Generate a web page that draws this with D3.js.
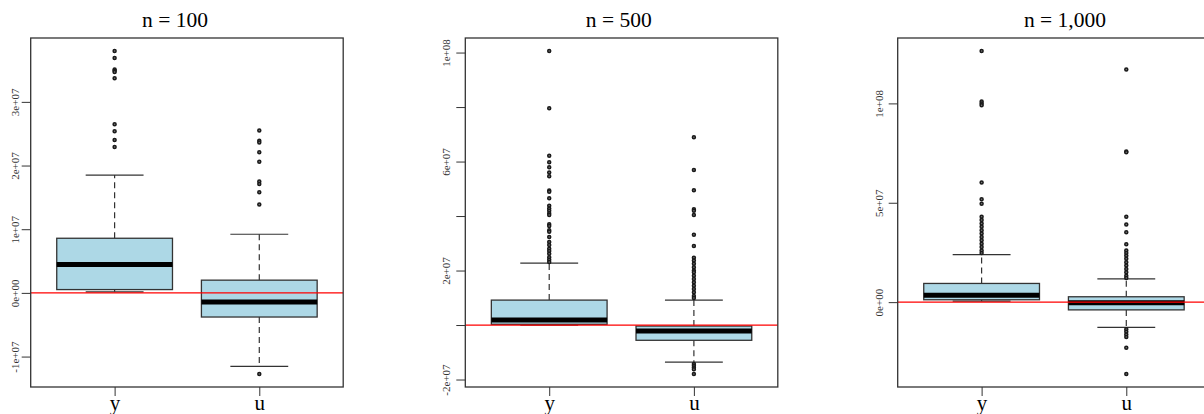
<!DOCTYPE html>
<html>
<head>
<meta charset="utf-8">
<script src="https://cdn.jsdelivr.net/npm/d3@7"></script>
<style>
  body { margin: 0; background: #fff; }
  svg { display: block; font-family: "Liberation Serif", "Times New Roman", serif; }
</style>
</head>
<body>
<svg id="chart" width="1204" height="414"></svg>
<script>
// groups shown on every panel
const groups = ['y', 'u'];
const panelTitles = ['n = 100', 'n = 500', 'n = 1,000'];

// box stats [lower whisker, q1, median, q3, upper whisker], values in units of 1e6
const stats100Y = [0.16, 0.52, 4.47, 8.58, 18.5];
const stats100U = [-11.53, -3.79, -1.42, 2.0, 9.21];
const stats500Y = [0.0, 0.26, 1.85, 9.15, 22.7];
const stats500U = [-13.6, -5.6, -2.2, -0.37, 9.15];
const stats1000Y = [0.5, 1.2, 3.4, 9.4, 23.9];
const stats1000U = [-12.7, -3.9, -0.35, 2.7, 11.7];

// outliers (units of 1e6)
const out100Y = [38.0, 36.9, 35.1, 34.9, 34.7, 33.7, 26.5, 25.4, 24.0, 22.9];
const out100U = [25.5, 23.9, 23.6, 22.1, 20.6, 17.5, 17.1, 15.8, 13.9, -12.75];
const out500Y = [100.6, 79.6, 62.1, 59.7, 57.9, 56.0, 54.6, 49.4, 48.9, 46.5, 43.8, 42.8, 41.9, 41.0, 40.4,
  37.0, 36.3, 34.8, 34.2, 32.3, 30.5, 29.4, 28.0, 27.2, 26.2, 24.9, 24.0, 23.1];
const out500U = [68.9, 56.9, 49.5, 42.5, 41.9, 40.4, 33.1, 29.0, 24.7, 23.7, 22.5, 21.2, 20.0, 19.4, 18.1,
  16.9, 15.7, 14.4, 13.2, 12.0, 10.7, 9.9, -14.3, -14.9, -15.6, -16.2, -18.0];
const out1000Y = [126.4, 101.0, 100.0, 99.1, 60.2, 51.8, 49.5, 42.9, 41.3, 39.6, 37.9, 36.2, 34.5, 32.8,
  31.1, 29.4, 27.7, 26.0, 24.7];
const out1000U = [117.1, 75.8, 75.4, 42.9, 39.1, 35.2, 29.1, 26.0, 24.7, 23.3, 21.8, 20.1, 18.4, 16.7,
  15.0, 13.3, 12.2, -13.7, -14.9, -16.3, -17.6, -23.0, -36.2];

// y-axis ticks and which of them carry a label
const ticks100 = [-1e7, 0, 1e7, 2e7, 3e7];
const labels100 = [-1e7, 0, 1e7, 2e7, 3e7];
const ticks500 = [-2e7, 0, 2e7, 4e7, 6e7, 8e7, 1e8];
const labels500 = [-2e7, 2e7, 6e7, 1e8];
const ticks1000 = [0, 5e7, 1e8];
const labels1000 = [0, 5e7, 1e8];

const refLine = 0;

const panels = [
  { title: panelTitles[0], stats: [stats100Y, stats100U], outs: [out100Y, out100U], ticks: ticks100, labels: labels100 },
  { title: panelTitles[1], stats: [stats500Y, stats500U], outs: [out500Y, out500U], ticks: ticks500, labels: labels500 },
  { title: panelTitles[2], stats: [stats1000Y, stats1000U], outs: [out1000Y, out1000U], ticks: ticks1000, labels: labels1000 }
];

// layout
const lefts = [30.7, 465.3, 897.7];
const titleX = [175, 618.7, 1065];
const labelOff = [15.5, 19.6, 18.7];
const plotW = 312.5, plotTop = 38, plotBottom = 387;

const svg = d3.select('#chart');

// R style exponent labels: 3e+07, 0e+00, -1e+07
const fmtExp = v => {
  const [m, e] = v.toExponential(0).split('e');
  const sign = e[0];
  const digits = e.slice(1).padStart(2, '0');
  return `${m}e${sign}${digits}`;
};

panels.forEach((p, i) => {
  const left = lefts[i];
  const g = svg.append('g');

  const allVals = p.stats.flat().concat(p.outs.flat()).map(v => v * 1e6);
  const [mn, mx] = d3.extent(allVals);
  const pad = (mx - mn) * 0.04;

  const y = d3.scaleLinear().domain([mn - pad, mx + pad]).range([plotBottom, plotTop]);
  const x = d3.scaleLinear().domain([0.42, 2.58]).range([left, left + plotW]);

  // clip so the red line stays inside the frame
  const clipId = `clip${i}`;
  svg.append('clipPath').attr('id', clipId)
    .append('rect').attr('x', left).attr('y', plotTop).attr('width', plotW).attr('height', plotBottom - plotTop);

  const inner = g.append('g').attr('clip-path', `url(#${clipId})`);

  p.stats.forEach((s, j) => {
    const cx = x(j + 1);
    const [lo, q1, med, q3, hi] = s.map(v => v * 1e6);
    const hw = x(1.4) - x(1), cw = x(1.2) - x(1);

    // whiskers
    inner.append('line').attr('x1', cx).attr('x2', cx).attr('y1', y(q3)).attr('y2', y(hi))
      .attr('stroke', '#333').attr('stroke-width', 1.2).attr('stroke-dasharray', '6,4');
    inner.append('line').attr('x1', cx).attr('x2', cx).attr('y1', y(q1)).attr('y2', y(lo))
      .attr('stroke', '#333').attr('stroke-width', 1.2).attr('stroke-dasharray', '6,4');
    inner.append('line').attr('x1', cx - cw).attr('x2', cx + cw).attr('y1', y(hi)).attr('y2', y(hi))
      .attr('stroke', '#333').attr('stroke-width', 1.2);
    inner.append('line').attr('x1', cx - cw).attr('x2', cx + cw).attr('y1', y(lo)).attr('y2', y(lo))
      .attr('stroke', '#333').attr('stroke-width', 1.2);

    // box
    inner.append('rect')
      .attr('x', cx - hw).attr('width', hw * 2)
      .attr('y', y(q3)).attr('height', y(q1) - y(q3))
      .attr('fill', '#add8e6').attr('stroke', '#333').attr('stroke-width', 1.3);
    inner.append('line').attr('x1', cx - hw).attr('x2', cx + hw).attr('y1', y(med)).attr('y2', y(med))
      .attr('stroke', '#000').attr('stroke-width', 5);

    // outliers
    inner.selectAll(null)
      .data(p.outs[j])
      .enter()
      .append('circle')
      .attr('cx', cx)
      .attr('cy', d => y(d * 1e6))
      .attr('r', 1.5)
      .attr('fill', '#777')
      .attr('stroke', '#1a1a1a')
      .attr('stroke-width', 1.5);
  });

  // reference line at zero
  inner.append('line').attr('x1', left).attr('x2', left + plotW)
    .attr('y1', y(refLine)).attr('y2', y(refLine))
    .attr('stroke', '#ff0000').attr('stroke-width', 1.2);

  // frame
  g.append('rect').attr('x', left).attr('y', plotTop).attr('width', plotW).attr('height', plotBottom - plotTop)
    .attr('fill', 'none').attr('stroke', '#333').attr('stroke-width', 1.3);

  // y axis
  const yAxis = g.append('g')
    .attr('transform', `translate(${left},0)`)
    .call(d3.axisLeft(y).tickValues(p.ticks).tickSize(9)
      .tickFormat(v => p.labels.includes(v) ? fmtExp(v) : ''));
  yAxis.select('.domain').remove();
  yAxis.selectAll('line').attr('stroke', '#333');
  yAxis.selectAll('text')
    .attr('transform', 'rotate(-90)')
    .attr('x', 0)
    .attr('y', -labelOff[i])
    .attr('dy', '0.35em')
    .attr('text-anchor', 'middle')
    .attr('font-family', 'Liberation Serif')
    .attr('font-size', '11px')
    .attr('fill', '#333');

  // x axis
  const xAxis = g.append('g')
    .attr('transform', `translate(0,${plotBottom})`)
    .call(d3.axisBottom(x).tickValues([1, 2]).tickSize(9).tickFormat((d, k) => groups[k]));
  xAxis.select('.domain').remove();
  xAxis.selectAll('line').attr('stroke', '#333');
  xAxis.selectAll('text')
    .attr('y', 23)
    .attr('dy', 0)
    .attr('font-family', 'Liberation Serif')
    .attr('font-size', '21px')
    .attr('fill', '#000');

  // title
  g.append('text')
    .attr('x', titleX[i])
    .attr('y', 27)
    .attr('text-anchor', 'middle')
    .attr('font-size', '21.5px')
    .attr('fill', '#000')
    .text(p.title);
});
</script>
</body>
</html>
